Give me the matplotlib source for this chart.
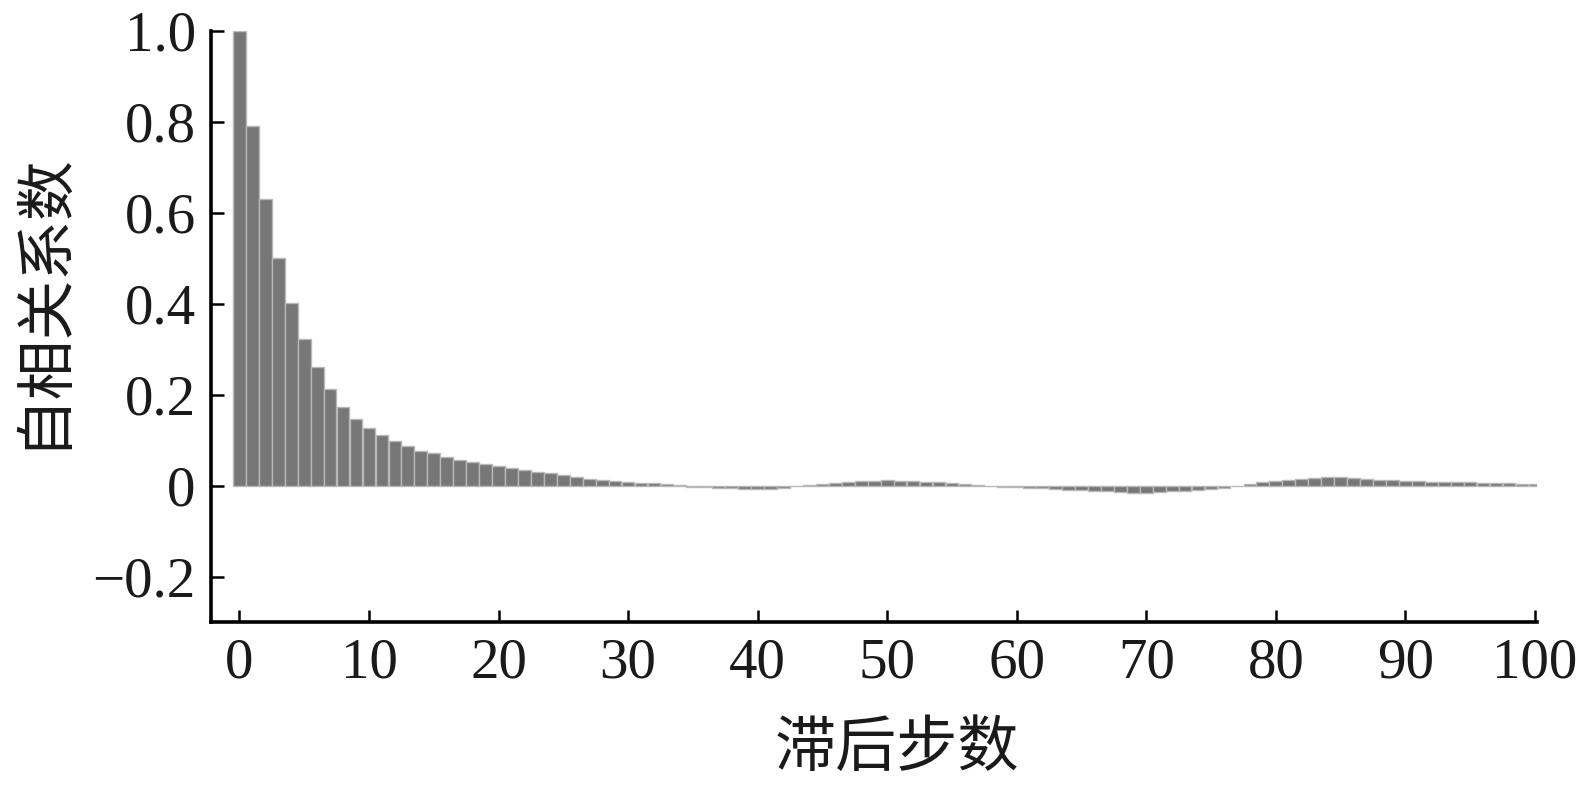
import matplotlib
matplotlib.use("Agg")
import matplotlib.pyplot as plt
import numpy as np

# autocorrelation, lag 0..100
lags = np.arange(0, 101)
acf = [
    1.000, 0.791, 0.631, 0.501, 0.402, 0.322, 0.261, 0.213, 0.173, 0.146,
    0.126, 0.112, 0.097, 0.087, 0.077, 0.071, 0.062, 0.057, 0.051, 0.048,
    0.042, 0.038, 0.034, 0.030, 0.027, 0.023, 0.019, 0.015, 0.012, 0.010,
    0.008, 0.006, 0.005, 0.003, 0.001, -0.003, -0.004, -0.005, -0.006, -0.007,
    -0.008, -0.007, -0.005, -0.002, 0.001, 0.004, 0.006, 0.008, 0.009, 0.010,
    0.012, 0.010, 0.009, 0.008, 0.007, 0.005, 0.003, 0.001, -0.002, -0.003,
    -0.004, -0.005, -0.006, -0.008, -0.009, -0.010, -0.012, -0.013, -0.015, -0.016,
    -0.016, -0.015, -0.013, -0.011, -0.009, -0.007, -0.005, -0.001, 0.004, 0.007,
    0.010, 0.012, 0.014, 0.017, 0.018, 0.018, 0.017, 0.015, 0.013, 0.012,
    0.010, 0.009, 0.008, 0.008, 0.007, 0.007, 0.006, 0.006, 0.005, 0.004,
    0.003,
]

x_ticks = [0, 10, 20, 30, 40, 50, 60, 70, 80, 90, 100]
y_ticks = [-0.2, 0.0, 0.2, 0.4, 0.6, 0.8, 1.0]
y_tick_labels = ["\u22120.2", "0", "0.2", "0.4", "0.6", "0.8", "1.0"]
x_label = "滞后步数"
y_label = "自相关系数"

serif = "Liberation Serif"
cjk = ["Noto Sans CJK SC", "DejaVu Sans"]

fig = plt.figure(figsize=(15.86, 7.88), dpi=100)
ax = fig.add_axes([0.133, 0.2107, 0.836, 0.75])

ax.bar(lags, acf, width=0.98, color="#777777", edgecolor="#b8b8b8",
       linewidth=1.0, zorder=2)

ax.set_xlim(-2.2, 100.15)
ax.set_ylim(-0.30, 1.0)

for side in ("top", "right"):
    ax.spines[side].set_visible(False)
for side in ("left", "bottom"):
    ax.spines[side].set_linewidth(2.6)
    ax.spines[side].set_color("#000000")

ax.set_xticks(x_ticks)
ax.set_xticklabels([str(t) for t in x_ticks], fontfamily=serif, fontsize=41,
                   color="#1a1a1a")
ax.set_yticks(y_ticks)
ax.set_yticklabels(y_tick_labels, fontfamily=serif, fontsize=41,
                   color="#1a1a1a")
ax.tick_params(axis="both", direction="in", length=9, width=1.8,
               color="#000000")
ax.tick_params(axis="x", pad=11)
ax.tick_params(axis="y", pad=11)

ax.set_xlabel(x_label, family=cjk, fontsize=44, color="#1a1a1a")
ax.xaxis.set_label_coords(0.517, -0.215)
ax.xaxis.label.set_verticalalignment("center")
ax.set_ylabel(y_label, family=cjk, fontsize=43, color="#1a1a1a")
ax.yaxis.set_label_coords(-0.128, 0.545)
ax.yaxis.label.set_verticalalignment("center")

fig.savefig("out.png", dpi=100)
plt.close(fig)
